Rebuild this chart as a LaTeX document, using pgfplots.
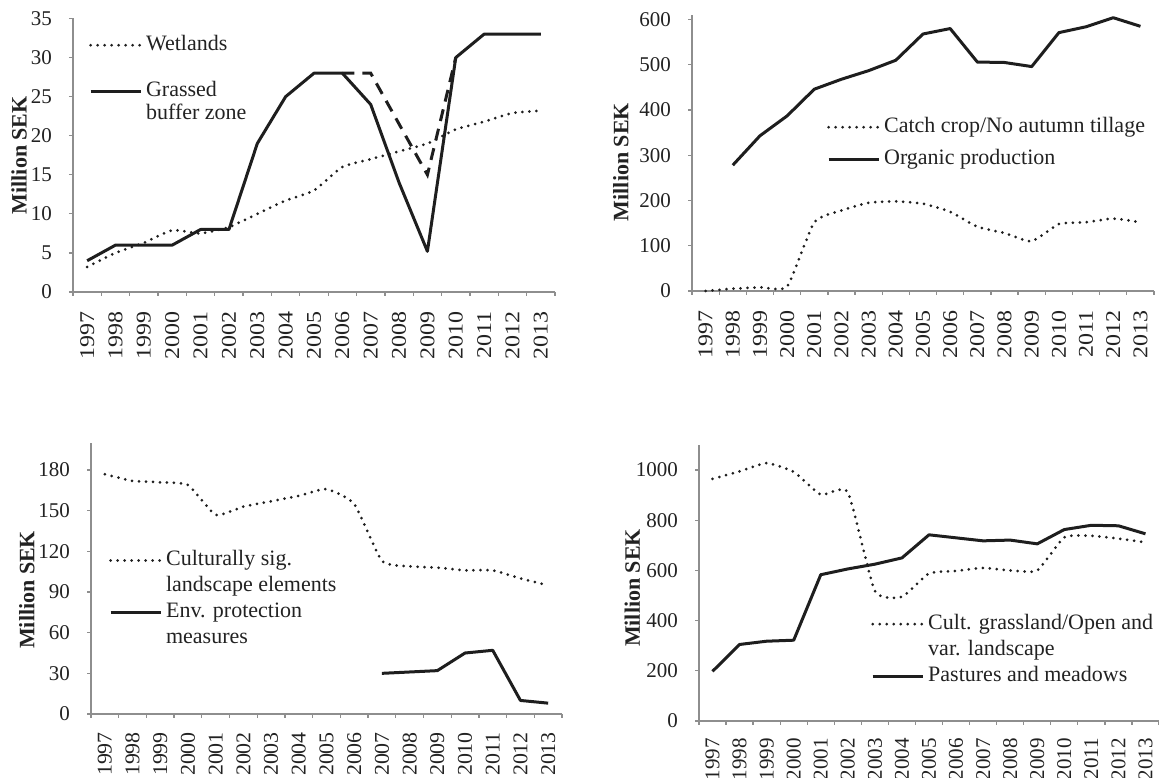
\documentclass[border=0pt]{standalone}
\usepackage{fontspec}
\setmainfont{Liberation Serif}
\usepackage{pgfplots}
\pgfplotsset{compat=1.18}
\definecolor{ln}{HTML}{1E1E1E}
\definecolor{ax}{HTML}{8E8E8E}
\definecolor{txt}{HTML}{222222}

\pgfplotsset{
  panel/.style={
    scale only axis,
    clip=false,
    axis x line=bottom, axis y line=left,
    axis line style={-, draw=ax, line width=1.3pt},
    xmin=-0.5, xmax=16.5,
    xtick={0,...,16},
    xticklabels={1997,1998,1999,2000,2001,2002,2003,2004,2005,2006,2007,2008,2009,2010,2011,2012,2013},
    major x tick style={draw=none},
    minor xtick={-0.5,0.5,...,16.5},
    minor tick length=4pt, major tick length=4pt,
    tick align=outside,
    tick style={draw=ax, line width=1.3pt},
    tick label style={font=\fontsize{21}{25}\selectfont, text=txt},
    xticklabel shift=15pt,
    yticklabel style={anchor=east, inner sep=0pt},
    yticklabel shift=17pt,
    /pgf/number format/assume math mode=true,
    /pgf/number format/set thousands separator={},
    scaled y ticks=false,
    ylabel={Million SEK},
    ylabel style={font=\bfseries\fontsize{22}{26}\selectfont, text=txt, anchor=center, rotate=0},
    legend style={draw=none, fill=none, inner sep=0pt, anchor=north west,
      font=\fontsize{22}{26}\selectfont, text=txt,
      nodes={inner sep=0pt, text height=14pt, text depth=4pt},
      column sep=4pt},
    legend cell align=left,
    legend image code/.code={\draw[##1] (0pt,0pt) -- (50pt,0pt);},
  },
  dotl/.style={ln, line width=3pt, line cap=round, dash pattern=on 0pt off 7pt, smooth, tension=0.3},
  soll/.style={ln, line width=3pt, line join=round},
  dasl/.style={ln, line width=3pt, dash pattern=on 12pt off 8pt},
}

\begin{document}
\begin{tikzpicture}
\path[use as bounding box] (0pt,0pt) rectangle (1159pt,778pt);

% Panel 1
\begin{axis}[panel, at={(73pt,486pt)}, anchor=south west, width=482pt, height=273.5pt,
  ymin=0, ymax=35, ytick={0,5,...,35},
  xticklabel style={yscale=1.14, rotate=90, anchor=east, inner sep=0pt},
  ylabel style={at={(axis description cs:-0.112,0.5)}},
  legend style={at={(axis description cs:0.033,0.936)}, row sep=5pt}]
\addplot[dotl] coordinates {(0,3.2) (1,5) (2,6.3) (3,7.9) (4,7.5) (5,8.3) (6,10) (7,11.7) (8,13) (9,16) (10,17) (11,18) (12,19) (13,20.8) (14,21.8) (15,22.9) (16,23.2)};
\addlegendentry{Wetlands}
\addlegendimage{empty legend}\addlegendentry{}
\addplot[dasl, forget plot] coordinates {(9,28) (10,28) (11,21.5) (12,15) (13,30)};
\addplot[soll] coordinates {(0,4) (1,6) (2,6) (3,6) (4,8) (5,8) (6,19) (7,25) (8,28) (9,28) (10,24) (11,14) (12,5.2) (13,30) (14,33) (15,33) (16,33)};
\addlegendentry{Grassed}
\addlegendimage{empty legend}\addlegendentry{buffer zone}
\end{axis}

% Panel 2
\begin{axis}[panel, at={(692pt,487pt)}, anchor=south west, width=462pt, height=276pt,
  ymin=0, ymax=610, ytick={0,100,...,600},
  xticklabel style={yscale=1.14, rotate=90, anchor=east, inner sep=0pt},
  ylabel style={at={(axis description cs:-0.154,0.467)}},
  legend style={at={(axis description cs:0.292,0.627)}, row sep=14pt}]
\addplot[dotl] coordinates {(0,0) (1,5) (2,8) (3,10) (4,152) (5,178) (6,195) (7,198) (8,193) (9,175) (10,142) (11,128) (12,110) (13,148) (14,152) (15,160) (16,152)};
\addlegendentry{Catch crop/No autumn tillage}
\addplot[soll] coordinates {(1,278) (2,343) (3,387) (4,446) (5,468) (6,487) (7,510) (8,568) (9,580) (10,506) (11,505) (12,496) (13,571) (14,584) (15,604) (16,585)};
\addlegendentry{Organic production}
\end{axis}

% Panel 3
\begin{axis}[panel, at={(91pt,64pt)}, anchor=south west, width=471pt, height=271pt,
  ymin=0, ymax=200, ytick={0,30,...,180},
  xticklabel style={yscale=1.04, rotate=90, anchor=east, inner sep=0pt},
  xticklabel shift=14pt,
  ylabel style={at={(axis description cs:-0.136,0.458)}},
  legend style={at={(axis description cs:0.038,0.6)}, row sep=8pt}]
\addplot[dotl] coordinates {(0,177) (1,172) (2,171) (3,169) (4,147) (5,153) (6,157) (7,161) (8,166) (9,155) (10,113) (11,109) (12,108) (13,106) (14,106) (15,100) (16,95)};
\addlegendentry{Culturally sig.}
\addlegendimage{empty legend}\addlegendentry{landscape elements}
\addplot[soll] coordinates {(10,30) (11,31) (12,32) (13,45) (14,47) (15,10) (16,8)};
\addlegendentry{Env. protection}
\addlegendimage{empty legend}\addlegendentry{measures}
\end{axis}

% Panel 4
\begin{axis}[panel, at={(699pt,57pt)}, anchor=south west, width=460pt, height=276pt,
  ymin=0, ymax=1100, ytick={0,200,...,1000},
  xticklabel style={rotate=90, anchor=east, inner sep=0pt},
  xticklabel shift=13pt,
  ylabel style={at={(axis description cs:-0.145,0.482)}},
  legend style={at={(axis description cs:0.374,0.384)}, row sep=8pt}]
\addplot[dotl] coordinates {(0,965) (1,995) (2,1028) (3,993) (4,902) (5,912) (6,518) (7,495) (8,588) (9,598) (10,610) (11,600) (12,600) (13,732) (14,738) (15,727) (16,712)};
\addlegendentry{Cult. grassland/Open and}
\addlegendimage{empty legend}\addlegendentry{var. landscape}
\addplot[soll] coordinates {(0,198) (1,305) (2,318) (3,322) (4,583) (5,606) (6,625) (7,650) (8,742) (9,730) (10,718) (11,721) (12,706) (13,763) (14,780) (15,778) (16,746)};
\addlegendentry{Pastures and meadows}
\end{axis}
\end{tikzpicture}
\end{document}
